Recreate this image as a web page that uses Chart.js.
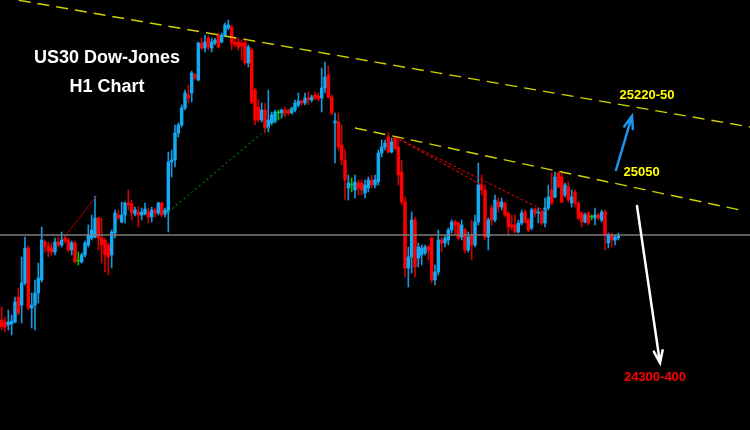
<!DOCTYPE html>
<html>
<head>
<meta charset="utf-8">
<script src="https://cdn.jsdelivr.net/npm/chart.js@4.4.1/dist/chart.umd.min.js"></script>
<style>
html, body { margin: 0; padding: 0; background: #000; }
#wrap { width: 750px; height: 430px; }
</style>
</head>
<body>
<div id="wrap"><canvas id="chart"></canvas></div>
<script>
// US30 H1 candles
const open = [
  24810, 24806, 24800, 24802, 24806, 24856, 24840, 24884, 24954, 24834,
  24840, 24864, 24890, 24966, 24958, 24954, 24946, 24966, 24960, 24974,
  24970, 24950, 24964, 24928, 24926, 24940, 24960, 24974, 24976, 25014,
  24974, 24970, 24960, 24940, 24984, 25020, 25006, 25020, 25044, 25042,
  25022, 25026, 25020, 25022, 25026, 25016, 25030, 25024, 25044, 25022,
  25026, 25126, 25130, 25184, 25200, 25234, 25260, 25264, 25300, 25290,
  25364, 25354, 25374, 25354, 25364, 25380, 25366, 25378, 25394, 25396,
  25366, 25366, 25364, 25364, 25324, 25350, 25270, 25236, 25210, 25230,
  25194, 25204, 25206, 25224, 25224, 25230, 25230, 25224, 25230, 25240,
  25248, 25244, 25254, 25250, 25260, 25258, 25254, 25274, 25300, 25256,
  25204, 25206, 25160, 25130, 25074, 25080, 25070, 25084, 25084, 25064,
  25074, 25090, 25080, 25086, 25144, 25156, 25176, 25146, 25174, 25156,
  25106, 25046, 24914, 24936, 25010, 24934, 24940, 24944, 24956, 24974,
  24890, 24906, 24970, 24964, 24970, 24990, 25006, 25004, 24976, 24990,
  24950, 24980, 24960, 25006, 25080, 25070, 24976, 25034, 25010, 25046,
  25036, 25044, 25024, 25000, 25000, 24986, 25004, 25026, 25010, 24994,
  25032, 25024, 25026, 25004, 25034, 25070, 25056, 25104, 25096, 25060,
  25076, 25044, 25066, 25044, 25024, 25006, 25024, 25016, 25014, 25020,
  25010, 25026, 24964, 24980, 24970, 24974
];
const high = [
  24836, 24816, 24830, 24820, 24856, 24874, 24936, 24976, 24958, 24864,
  24890, 24924, 24996, 24970, 24966, 24964, 24974, 24976, 24986, 24978,
  24974, 24968, 24968, 24946, 24944, 24968, 25000, 25020, 25058, 25016,
  25014, 24974, 24964, 24990, 25030, 25030, 25046, 25046, 25070, 25050,
  25036, 25036, 25034, 25044, 25034, 25036, 25034, 25046, 25046, 25034,
  25146, 25150, 25200, 25204, 25240, 25270, 25280, 25308, 25304, 25366,
  25374, 25380, 25378, 25374, 25374, 25384, 25384, 25404, 25410, 25400,
  25374, 25374, 25370, 25374, 25360, 25354, 25274, 25250, 25244, 25244,
  25270, 25226, 25230, 25230, 25232, 25236, 25232, 25236, 25250, 25264,
  25250, 25264, 25266, 25260, 25266, 25264, 25314, 25326, 25318, 25260,
  25224, 25224, 25200, 25150, 25100, 25094, 25100, 25090, 25090, 25090,
  25096, 25100, 25100, 25150, 25170, 25170, 25184, 25174, 25176, 25176,
  25130, 25056, 24956, 25026, 25016, 24964, 24960, 24960, 24960, 24976,
  24920, 24990, 24976, 24980, 24994, 25010, 25010, 25006, 25010, 24994,
  24986, 25010, 25020, 25124, 25100, 25080, 25014, 25040, 25060, 25054,
  25054, 25046, 25026, 25020, 25020, 25010, 25030, 25030, 25014, 25034,
  25034, 25034, 25030, 25054, 25080, 25104, 25106, 25106, 25104, 25084,
  25086, 25070, 25070, 25046, 25026, 25024, 25026, 25020, 25034, 25024,
  25030, 25030, 24984, 24984, 24980, 24984
];
const low = [
  24790, 24786, 24790, 24780, 24804, 24820, 24804, 24880, 24830, 24794,
  24790, 24844, 24886, 24946, 24936, 24940, 24940, 24956, 24956, 24964,
  24946, 24940, 24924, 24920, 24924, 24936, 24956, 24970, 24974, 24950,
  24924, 24906, 24900, 24914, 24974, 25010, 25004, 25004, 25030, 25010,
  25018, 24996, 25010, 25020, 25004, 25006, 25016, 25020, 25016, 25016,
  24986, 25096, 25116, 25176, 25196, 25230, 25244, 25246, 25290, 25288,
  25350, 25346, 25350, 25346, 25360, 25354, 25364, 25376, 25390, 25350,
  25356, 25350, 25330, 25320, 25316, 25242, 25200, 25206, 25206, 25184,
  25186, 25200, 25204, 25210, 25214, 25216, 25220, 25222, 25226, 25236,
  25240, 25240, 25240, 25246, 25250, 25248, 25226, 25264, 25254, 25220,
  25124, 25150, 25120, 25050, 25050, 25066, 25054, 25060, 25060, 25054,
  25066, 25074, 25074, 25080, 25136, 25150, 25144, 25144, 25150, 25080,
  25040, 24896, 24876, 24904, 24896, 24916, 24920, 24940, 24930, 24884,
  24880, 24900, 24946, 24956, 24960, 24984, 24980, 24970, 24970, 24944,
  24946, 24930, 24956, 25000, 25060, 24970, 24950, 25000, 25006, 25026,
  25030, 25016, 24980, 24990, 24984, 24984, 25000, 25004, 24986, 24990,
  25016, 25004, 25000, 24996, 25030, 25040, 25054, 25074, 25044, 25056,
  25046, 25036, 25036, 25010, 24996, 25004, 25000, 25010, 25000, 25010,
  25006, 24950, 24954, 24956, 24960, 24970
];
const close = [
  24796, 24796, 24806, 24808, 24846, 24824, 24884, 24954, 24834, 24840,
  24864, 24894, 24970, 24958, 24948, 24946, 24966, 24960, 24970, 24968,
  24950, 24964, 24926, 24928, 24940, 24964, 24980, 24990, 25014, 24974,
  24960, 24940, 24936, 24986, 25024, 25014, 25020, 25044, 25040, 25024,
  25030, 25020, 25026, 25032, 25016, 25030, 25024, 25044, 25020, 25030,
  25126, 25130, 25184, 25200, 25234, 25264, 25254, 25304, 25294, 25364,
  25354, 25366, 25356, 25366, 25370, 25356, 25380, 25400, 25400, 25364,
  25360, 25356, 25358, 25324, 25356, 25246, 25210, 25210, 25230, 25194,
  25210, 25220, 25226, 25224, 25230, 25224, 25224, 25234, 25244, 25248,
  25244, 25254, 25250, 25256, 25254, 25252, 25274, 25296, 25256, 25224,
  25208, 25156, 25130, 25090, 25084, 25080, 25086, 25074, 25070, 25080,
  25090, 25080, 25090, 25144, 25156, 25164, 25146, 25166, 25154, 25100,
  25046, 24914, 24936, 25010, 24916, 24956, 24954, 24956, 24950, 24890,
  24906, 24970, 24964, 24974, 24990, 25006, 25000, 24974, 25000, 24950,
  24976, 24960, 25006, 25080, 25070, 24976, 25010, 25010, 25050, 25036,
  25046, 25020, 24996, 24996, 24986, 25004, 25024, 25006, 24990, 25030,
  25024, 25026, 25004, 25034, 25056, 25044, 25096, 25076, 25046, 25080,
  25050, 25056, 25044, 25014, 25006, 25020, 25004, 25016, 25020, 25014,
  25026, 24980, 24980, 24970, 24976, 24978
];

// drawn objects, as [bar index, price]
const hLevel = 24980;
const upperTrend = [[-0.5, 25456], [224.5, 25196]];
const lowerTrend = [[106, 25194], [221.5, 25030]];
const redDotA = [[118, 25176], [163, 25028]];
const redDotB = [[118, 25176], [144, 25080]];
const redLine = [[19, 24978], [28.5, 25058]];
const greenDot = [[50, 25026], [87, 25234]];
const blueArrow = [[184.3, 25110], [189.1, 25218]];
const whiteArrow = [[190.6, 25038], [197.5, 24724]];

const notes = [
  { text: 'US30 Dow-Jones', x: 31.6, y: 25334, color: '#ffffff', font: 'bold 18px "Liberation Sans", Arial, sans-serif' },
  { text: 'H1 Chart', x: 31.6, y: 25275, color: '#ffffff', font: 'bold 18px "Liberation Sans", Arial, sans-serif' },
  { text: '25220-50', x: 193.6, y: 25260, color: '#ffff00', font: 'bold 13px "Liberation Sans", Arial, sans-serif' },
  { text: '25050', x: 192, y: 25106, color: '#ffff00', font: 'bold 13px "Liberation Sans", Arial, sans-serif' },
  { text: '24300-400', x: 196, y: 24695, color: '#ff0000', font: 'bold 13px "Liberation Sans", Arial, sans-serif' }
];

const totalSlots = 225;
const labels = Array.from({ length: totalSlots }, (_, i) => String(i));

const BULL = '#12aaf2';
const BEAR = '#ff0000';
const DOJI = '#00c800';
const bodyColors = open.map((o, i) => close[i] > o ? BULL : close[i] < o ? BEAR : DOJI);
const wickColors = open.map((o, i) => close[i] > o ? '#1898dc' : close[i] < o ? '#d00000' : DOJI);

const lineSet = (pts, color, dash, width) => ({
  type: 'line',
  xAxisID: 'xl',
  data: pts.map(p => ({ x: p[0], y: p[1] })),
  borderColor: color,
  borderWidth: width,
  borderDash: dash,
  pointRadius: 0,
  fill: false,
  order: 0
});

const background = {
  id: 'background',
  beforeDraw(chart) {
    const ctx = chart.ctx;
    ctx.save();
    ctx.fillStyle = '#000';
    ctx.fillRect(0, 0, chart.width, chart.height);
    ctx.restore();
  }
};

const overlays = {
  id: 'overlays',
  afterDatasetsDraw(chart) {
    const { ctx, scales } = chart;
    const px = v => scales.xl.getPixelForValue(v);
    const py = v => scales.y.getPixelForValue(v);

    [[blueArrow, '#1e96f0'], [whiteArrow, '#ffffff']].forEach(([a, color]) => {
      const x1 = px(a[0][0]), y1 = py(a[0][1]);
      const x2 = px(a[1][0]), y2 = py(a[1][1]);
      const ang = Math.atan2(y2 - y1, x2 - x1);
      ctx.save();
      ctx.strokeStyle = color;
      ctx.lineWidth = 2.5;
      ctx.lineCap = 'round';
      ctx.beginPath();
      ctx.moveTo(x1, y1);
      ctx.lineTo(x2, y2);
      ctx.moveTo(x2 - 13 * Math.cos(ang - 0.35), y2 - 13 * Math.sin(ang - 0.35));
      ctx.lineTo(x2, y2);
      ctx.lineTo(x2 - 13 * Math.cos(ang + 0.35), y2 - 13 * Math.sin(ang + 0.35));
      ctx.stroke();
      ctx.restore();
    });

    ctx.save();
    ctx.textAlign = 'center';
    ctx.textBaseline = 'middle';
    notes.forEach(n => {
      ctx.font = n.font;
      ctx.fillStyle = n.color;
      ctx.fillText(n.text, px(n.x), py(n.y));
    });
    ctx.restore();
  }
};

new Chart(document.getElementById('chart'), {
  type: 'bar',
  data: {
    labels: labels,
    datasets: [
      {
        data: low.map((l, i) => [l, high[i]]),
        backgroundColor: wickColors,
        barThickness: 1,
        grouped: false,
        order: 3
      },
      {
        data: open.map((o, i) => [o, close[i]]),
        backgroundColor: bodyColors,
        barThickness: 2.8,
        minBarLength: 1,
        grouped: false,
        order: 2
      },
      lineSet([[-0.5, hLevel], [224.5, hLevel]], '#7c7c7c', [], 1.5),
      lineSet(upperTrend, '#d2d200', [12, 7], 1.4),
      lineSet(lowerTrend, '#d2d200', [12, 7], 1.4),
      lineSet(redDotA, '#c00000', [3, 2], 1.2),
      lineSet(redDotB, '#c00000', [3, 2], 1.2),
      lineSet(redLine, '#b00000', [], 1),
      lineSet(greenDot, '#007800', [2, 3], 1.2)
    ]
  },
  options: {
    responsive: true,
    maintainAspectRatio: false,
    animation: false,
    layout: { padding: 0 },
    plugins: { legend: { display: false }, tooltip: { enabled: false } },
    scales: {
      x: { type: 'category', display: false, offset: true },
      xl: { type: 'linear', display: false, offset: false, grid: { offset: false }, min: -0.5, max: 224.5 },
      y: { display: false, min: 24590, max: 25450 }
    }
  },
  plugins: [background, overlays]
});
</script>
</body>
</html>
